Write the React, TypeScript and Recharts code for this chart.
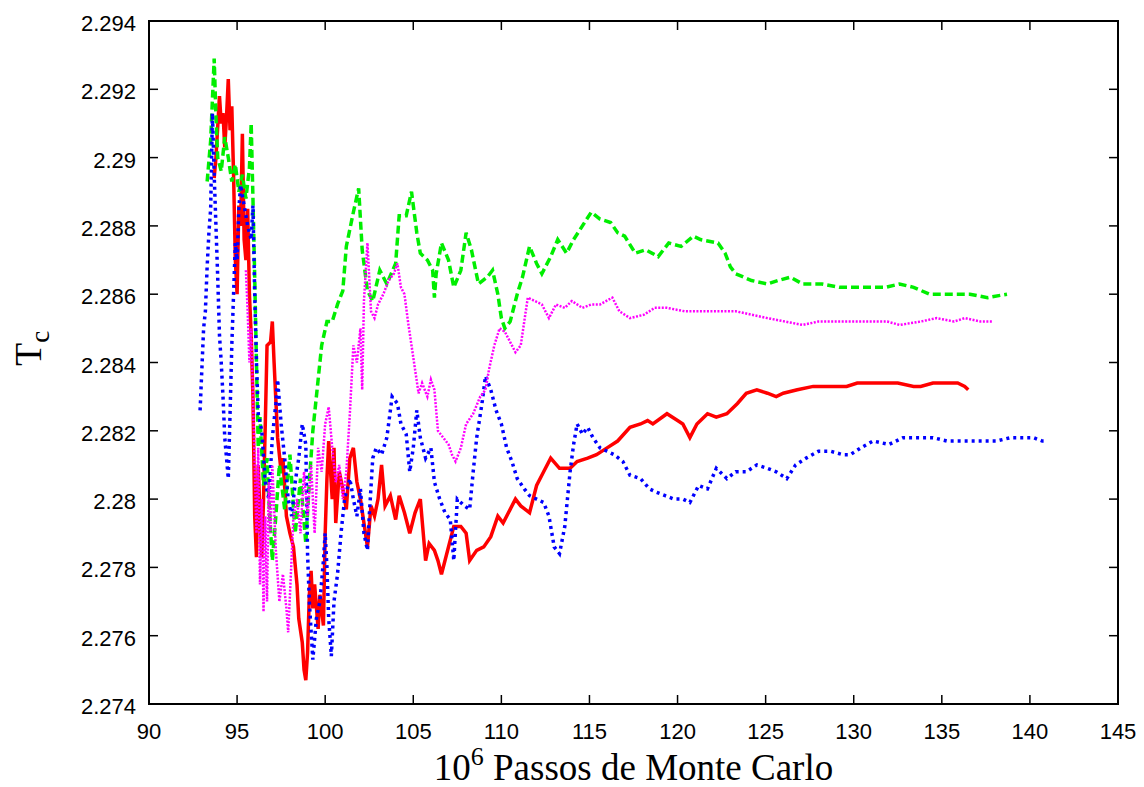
import { LineChart, Line, XAxis, YAxis, ReferenceArea } from 'recharts';

// plot box (px) - used only for ticks/labels drawn in custom renderers
const LEFT = 149;
const RIGHT = 1118;
const TOP = 21;
const BOTTOM = 704;

const xTicks = [90, 95, 100, 105, 110, 115, 120, 125, 130, 135, 140, 145];
const yTicks = [2.274, 2.276, 2.278, 2.28, 2.282, 2.284, 2.286, 2.288, 2.29, 2.292, 2.294];

// [10^6 MC steps, Tc]
const redSeries: [number, number][] = [
    [93.7, 2.2894], [93.8, 2.29], [94.0, 2.2918], [94.1, 2.291], [94.2, 2.2913], [94.3, 2.2903], [94.4, 2.2912],
    [94.5, 2.2923], [94.6, 2.2908], [94.7, 2.2915], [94.8, 2.2895], [94.9, 2.287], [95.0, 2.286], [95.1, 2.2886],
    [95.2, 2.288], [95.3, 2.2907], [95.4, 2.2876], [95.5, 2.287], [95.6, 2.2885], [95.7, 2.286], [95.8, 2.2848],
    [95.9, 2.283], [96.0, 2.2795], [96.1, 2.2783], [96.2, 2.281], [96.3, 2.2795], [96.4, 2.2783], [96.5, 2.28],
    [96.6, 2.2822], [96.7, 2.2845], [96.9, 2.2846], [97.0, 2.2852], [97.1, 2.284], [97.3, 2.2818], [97.5, 2.2808],
    [97.6, 2.2812], [97.8, 2.2795], [98.0, 2.279], [98.2, 2.2786], [98.4, 2.2775], [98.5, 2.2765], [98.7, 2.2758],
    [98.8, 2.275], [98.9, 2.2747], [99.0, 2.2755], [99.1, 2.2772], [99.2, 2.2779], [99.3, 2.2768], [99.4, 2.2775],
    [99.6, 2.2762], [99.7, 2.2772], [99.9, 2.2763], [100.0, 2.279], [100.1, 2.2806], [100.2, 2.2817], [100.4, 2.28],
    [100.5, 2.2815], [100.6, 2.2793], [100.8, 2.2808], [101.0, 2.2803], [101.2, 2.2797], [101.4, 2.2812],
    [101.6, 2.2815], [101.8, 2.2805], [102.0, 2.28], [102.2, 2.2793], [102.4, 2.2786], [102.6, 2.2798],
    [102.8, 2.2795], [103.0, 2.28], [103.2, 2.281], [103.4, 2.2798], [103.7, 2.2801], [104.0, 2.2794],
    [104.2, 2.2801], [104.5, 2.2796], [104.8, 2.279], [105.1, 2.2796], [105.4, 2.28], [105.7, 2.2782],
    [105.9, 2.2787], [106.2, 2.2785], [106.4, 2.2782], [106.6, 2.2778], [106.9, 2.2784], [107.3, 2.2792],
    [107.7, 2.2792], [108.0, 2.279], [108.2, 2.2782], [108.6, 2.2785], [109.0, 2.2786], [109.4, 2.2789],
    [109.8, 2.2795], [110.1, 2.2793], [110.5, 2.2797], [110.8, 2.28], [111.1, 2.2798], [111.6, 2.2796],
    [112.0, 2.2804], [112.4, 2.2808], [112.8, 2.2812], [113.3, 2.2809], [113.9, 2.2809], [114.3, 2.2811],
    [114.9, 2.2812], [115.4, 2.2813], [116.0, 2.2815], [116.6, 2.2817], [117.3, 2.2821], [117.9, 2.2822],
    [118.3, 2.2823], [118.6, 2.2822], [119.4, 2.2825], [120.0, 2.2823], [120.3, 2.2822], [120.7, 2.2818],
    [121.1, 2.2822], [121.7, 2.2825], [122.2, 2.2824], [122.8, 2.2825], [123.4, 2.2828], [123.9, 2.2831],
    [124.5, 2.2832], [125.1, 2.2831], [125.6, 2.283], [126.0, 2.2831], [126.8, 2.2832], [127.7, 2.2833],
    [128.6, 2.2833], [129.6, 2.2833], [130.2, 2.2834], [131.1, 2.2834], [132.5, 2.2834], [133.4, 2.2833],
    [133.8, 2.2833], [134.5, 2.2834], [135.3, 2.2834], [135.9, 2.2834], [136.3, 2.2833], [136.5, 2.2832],
];

const greenSeries: [number, number][] = [
    [93.3, 2.2893], [93.5, 2.2905], [93.7, 2.2929], [93.8, 2.2912], [93.9, 2.29], [94.1, 2.2896], [94.3, 2.2906],
    [94.5, 2.29], [94.7, 2.2893], [94.9, 2.2898], [95.1, 2.289], [95.3, 2.2895], [95.5, 2.2888], [95.7, 2.2897],
    [95.8, 2.291], [95.9, 2.2888], [96.0, 2.2865], [96.1, 2.284], [96.2, 2.2815], [96.3, 2.2824], [96.5, 2.2804],
    [96.7, 2.2812], [96.8, 2.28], [97.0, 2.2782], [97.2, 2.2795], [97.4, 2.281], [97.7, 2.2797], [98.0, 2.2813],
    [98.3, 2.279], [98.6, 2.2806], [98.9, 2.2787], [99.1, 2.2805], [99.3, 2.282], [99.6, 2.2835], [99.8, 2.2845],
    [100.1, 2.2852], [100.4, 2.2852], [100.7, 2.2857], [101.0, 2.2861], [101.2, 2.2874], [101.6, 2.2884],
    [101.9, 2.2891], [102.1, 2.2873], [102.4, 2.2861], [102.7, 2.2858], [103.1, 2.2867], [103.5, 2.2863],
    [104.0, 2.2869], [104.2, 2.2883], [104.6, 2.2883], [104.9, 2.289], [105.2, 2.2878], [105.4, 2.2872],
    [105.8, 2.287], [106.1, 2.2867], [106.2, 2.2859], [106.3, 2.2866], [106.6, 2.2875], [107.0, 2.287],
    [107.3, 2.2862], [107.7, 2.2867], [108.0, 2.2878], [108.3, 2.2873], [108.7, 2.2863], [109.2, 2.2865],
    [109.5, 2.2867], [109.8, 2.286], [110.0, 2.2853], [110.2, 2.285], [110.5, 2.2852], [110.9, 2.286],
    [111.2, 2.2865], [111.6, 2.2874], [112.0, 2.2869], [112.3, 2.2866], [112.8, 2.2871], [113.2, 2.2876],
    [113.7, 2.2872], [114.1, 2.2876], [114.6, 2.288], [115.1, 2.2884], [115.6, 2.2882], [116.2, 2.2881],
    [116.6, 2.2878], [117.0, 2.2877], [117.6, 2.2872], [118.2, 2.2873], [118.9, 2.2871], [119.5, 2.2875],
    [120.2, 2.2874], [120.9, 2.2877], [121.3, 2.2876], [122.3, 2.2875], [122.7, 2.2872], [123.0, 2.2868],
    [123.3, 2.2866], [124.2, 2.2864], [125.1, 2.2863], [125.7, 2.2864], [126.4, 2.2865], [127.1, 2.2863],
    [128.2, 2.2863], [129.2, 2.2862], [130.0, 2.2862], [130.9, 2.2862], [131.8, 2.2862], [132.6, 2.2863],
    [133.4, 2.2862], [134.3, 2.286], [135.6, 2.286], [136.6, 2.286], [137.6, 2.2859], [138.7, 2.286],
];

const blueSeries: [number, number][] = [
    [92.9, 2.2826], [93.0, 2.2838], [93.1, 2.285], [93.2, 2.2855], [93.3, 2.2868], [93.4, 2.2878], [93.5, 2.2885],
    [93.6, 2.2913], [93.7, 2.2895], [93.8, 2.288], [93.9, 2.2865], [94.0, 2.2848], [94.1, 2.284], [94.2, 2.283],
    [94.3, 2.2818], [94.4, 2.2812], [94.5, 2.2806], [94.6, 2.2825], [94.7, 2.2845], [94.8, 2.286], [94.9, 2.2875],
    [95.0, 2.287], [95.1, 2.2885], [95.2, 2.2892], [95.4, 2.2886], [95.6, 2.288], [95.8, 2.2876], [95.9, 2.2886],
    [96.0, 2.286], [96.1, 2.284], [96.2, 2.2825], [96.4, 2.282], [96.6, 2.2805], [96.8, 2.28], [97.0, 2.2818],
    [97.2, 2.2828], [97.3, 2.2835], [97.5, 2.2822], [97.7, 2.2812], [97.9, 2.28], [98.1, 2.2795], [98.3, 2.2805],
    [98.5, 2.2812], [98.7, 2.2822], [98.9, 2.2816], [99.0, 2.2784], [99.1, 2.277], [99.3, 2.2753], [99.5, 2.2765],
    [99.7, 2.277], [99.9, 2.2782], [100.0, 2.279], [100.1, 2.278], [100.2, 2.2765], [100.35, 2.2754],
    [100.5, 2.277], [100.7, 2.2778], [100.9, 2.279], [101.1, 2.28], [101.4, 2.2806], [101.6, 2.28],
    [101.8, 2.2795], [102.0, 2.2803], [102.2, 2.279], [102.4, 2.2785], [102.5, 2.2795], [102.7, 2.2812],
    [102.9, 2.2815], [103.2, 2.2813], [103.5, 2.2818], [103.8, 2.283], [104.1, 2.2828], [104.3, 2.2822],
    [104.6, 2.2819], [104.8, 2.2808], [105.0, 2.2815], [105.2, 2.2826], [105.4, 2.2818], [105.7, 2.2812],
    [106.0, 2.2815], [106.2, 2.2805], [106.5, 2.28], [106.8, 2.2796], [107.1, 2.2794], [107.3, 2.2782],
    [107.5, 2.28], [107.9, 2.2798], [108.2, 2.2797], [108.4, 2.2808], [108.6, 2.2818], [108.9, 2.2828],
    [109.1, 2.2836], [109.4, 2.2832], [109.7, 2.2826], [110.0, 2.2822], [110.3, 2.2815], [110.6, 2.2811],
    [110.9, 2.2806], [111.3, 2.2803], [111.6, 2.2801], [112.0, 2.28], [112.4, 2.2799], [112.7, 2.2795],
    [113.0, 2.2786], [113.3, 2.2784], [113.6, 2.2792], [113.9, 2.2808], [114.1, 2.2816], [114.3, 2.2822],
    [114.6, 2.2819], [114.9, 2.2821], [115.2, 2.2818], [115.6, 2.2815], [116.0, 2.2814], [116.4, 2.2813],
    [116.9, 2.2811], [117.3, 2.2807], [117.9, 2.2806], [118.4, 2.2803], [118.8, 2.2802], [119.3, 2.2801],
    [119.8, 2.28], [120.3, 2.28], [120.7, 2.2799], [121.2, 2.2804], [121.7, 2.2803], [122.2, 2.2809],
    [122.8, 2.2806], [123.3, 2.2808], [123.9, 2.2808], [124.5, 2.281], [125.1, 2.2809], [125.6, 2.2808],
    [126.2, 2.2806], [126.7, 2.281], [127.3, 2.2812], [128.0, 2.2814], [128.7, 2.2814], [129.4, 2.2813],
    [129.8, 2.2813], [130.4, 2.2815], [131.1, 2.2817], [132.0, 2.2816], [132.8, 2.2818], [133.6, 2.2818],
    [134.5, 2.2818], [135.3, 2.2817], [136.2, 2.2817], [137.2, 2.2817], [138.1, 2.2817], [138.9, 2.2818],
    [139.6, 2.2818], [140.2, 2.2818], [140.7, 2.2817], [141.0, 2.2817],
];

const magentaSeries: [number, number][] = [
    [95.5, 2.2867], [95.6, 2.2855], [95.7, 2.284], [95.8, 2.285], [95.9, 2.283], [96.0, 2.281], [96.1, 2.279],
    [96.2, 2.2815], [96.3, 2.2775], [96.4, 2.28], [96.5, 2.2767], [96.6, 2.2795], [96.7, 2.277], [96.8, 2.2805],
    [96.9, 2.279], [97.0, 2.281], [97.2, 2.2785], [97.4, 2.277], [97.6, 2.2778], [97.8, 2.2768], [97.9, 2.2761],
    [98.0, 2.2772], [98.2, 2.2795], [98.4, 2.28], [98.6, 2.279], [98.8, 2.2808], [99.0, 2.2795], [99.2, 2.281],
    [99.4, 2.279], [99.6, 2.2815], [99.8, 2.2808], [100.0, 2.2822], [100.2, 2.2827], [100.4, 2.2815],
    [100.6, 2.2805], [100.8, 2.281], [101.0, 2.28], [101.2, 2.2808], [101.4, 2.2825], [101.6, 2.2845],
    [101.8, 2.284], [102.0, 2.285], [102.1, 2.2832], [102.2, 2.2858], [102.4, 2.2875], [102.5, 2.2865],
    [102.6, 2.2855], [102.8, 2.2853], [103.0, 2.2857], [103.3, 2.286], [103.6, 2.2864], [103.9, 2.2866],
    [104.1, 2.2869], [104.3, 2.2862], [104.5, 2.286], [104.7, 2.2852], [104.9, 2.2845], [105.1, 2.2838],
    [105.3, 2.2831], [105.5, 2.2834], [105.8, 2.283], [106.0, 2.2835], [106.2, 2.2832], [106.4, 2.282],
    [106.7, 2.2818], [107.0, 2.2816], [107.2, 2.2813], [107.4, 2.2811], [107.7, 2.2815], [108.0, 2.2822],
    [108.4, 2.2825], [108.8, 2.283], [109.1, 2.2832], [109.3, 2.2838], [109.6, 2.2845], [109.9, 2.285],
    [110.2, 2.2849], [110.5, 2.2846], [110.8, 2.2843], [111.1, 2.2845], [111.3, 2.2852], [111.5, 2.2859],
    [111.9, 2.2858], [112.3, 2.2857], [112.7, 2.2853], [113.1, 2.2857], [113.6, 2.2856], [114.0, 2.2858],
    [114.6, 2.2856], [115.1, 2.2857], [115.6, 2.2857], [116.3, 2.2859], [116.7, 2.2855], [117.3, 2.2853],
    [118.1, 2.2854], [118.7, 2.2856], [119.4, 2.2856], [120.4, 2.2855], [121.3, 2.2855], [122.3, 2.2855],
    [123.3, 2.2855], [124.2, 2.2854], [125.1, 2.2853], [126.1, 2.2852], [127.1, 2.2851], [128.0, 2.2852],
    [129.0, 2.2852], [129.9, 2.2852], [130.9, 2.2852], [131.9, 2.2852], [132.6, 2.2851], [133.8, 2.2852],
    [134.7, 2.2853], [135.7, 2.2852], [136.3, 2.2853], [137.2, 2.2852], [137.9, 2.2852],
];

const toRows = (pts: [number, number][]) => pts.map(([x, y]) => ({ x, y }));

const sansFont = '"Liberation Sans", Arial, Helvetica, sans-serif';
const serifFont = '"Liberation Serif", "Times New Roman", serif';

// gnuplot-style ticks: inward, mirrored on the opposite side
const XTick = ({ x, payload }: any) => (
    <g>
        <line x1={x} x2={x} y1={BOTTOM} y2={BOTTOM - 9} stroke="#000" strokeWidth={1.5} />
        <line x1={x} x2={x} y1={TOP} y2={TOP + 9} stroke="#000" strokeWidth={1.5} />
        <text x={x} y={BOTTOM + 35} textAnchor="middle" fontFamily={sansFont} fontSize={22} fill="#000">
            {payload.value}
        </text>
    </g>
);

const YTick = ({ y, payload }: any) => (
    <g>
        <line x1={LEFT} x2={LEFT + 9} y1={y} y2={y} stroke="#000" strokeWidth={1.5} />
        <line x1={RIGHT} x2={RIGHT - 9} y1={y} y2={y} stroke="#000" strokeWidth={1.5} />
        <text x={LEFT - 13} y={y + 10} textAnchor="end" fontFamily={sansFont} fontSize={22} fill="#000">
            {payload.value}
        </text>
    </g>
);

export default function App() {
    return (
        <div style={{ position: 'absolute', left: 0, top: 0, width: 1144, height: 787, background: '#fff' }}>
            <LineChart
                width={1144}
                height={787}
                margin={{ top: TOP, right: 1144 - RIGHT, bottom: 0, left: 0 }}
            >
                <XAxis
                    type="number"
                    dataKey="x"
                    domain={[90, 145]}
                    ticks={xTicks}
                    interval={0}
                    height={787 - BOTTOM}
                    tickLine={false}
                    axisLine={false}
                    tick={<XTick />}
                    allowDataOverflow
                />
                <YAxis
                    type="number"
                    dataKey="y"
                    domain={[2.274, 2.294]}
                    ticks={yTicks}
                    interval={0}
                    width={LEFT}
                    tickLine={false}
                    axisLine={false}
                    tick={<YTick />}
                    allowDataOverflow
                />
                <ReferenceArea
                    x1={90}
                    x2={145}
                    y1={2.274}
                    y2={2.294}
                    fill="none"
                    fillOpacity={0}
                    stroke="#000"
                    strokeWidth={2}
                />
                <Line data={toRows(redSeries)} dataKey="y" type="linear" stroke="#ff0000" strokeWidth={3.5}
                    dot={false} activeDot={false} isAnimationActive={false} />
                <Line data={toRows(greenSeries)} dataKey="y" type="linear" stroke="#00ee00" strokeWidth={3.5}
                    strokeDasharray="8 4" dot={false} activeDot={false} isAnimationActive={false} />
                <Line data={toRows(blueSeries)} dataKey="y" type="linear" stroke="#0000ff" strokeWidth={3.5}
                    strokeDasharray="3 4" dot={false} activeDot={false} isAnimationActive={false} />
                <Line data={toRows(magentaSeries)} dataKey="y" type="linear" stroke="#ff00ff" strokeWidth={2.5}
                    strokeDasharray="2 1.5" dot={false} activeDot={false} isAnimationActive={false} />
            </LineChart>
            <svg
                width={1144}
                height={787}
                style={{ position: 'absolute', left: 0, top: 0, pointerEvents: 'none' }}
            >
                <text transform="translate(41, 366) rotate(-90)" fontFamily={serifFont} fontSize={38} fill="#000">
                    T<tspan dy={8} fontSize={27}>c</tspan>
                </text>
                <text x={(LEFT + RIGHT) / 2} y={780} textAnchor="middle" fontFamily={serifFont} fontSize={37} fill="#000">
                    10<tspan dy={-15} fontSize={26}>6</tspan>
                    <tspan dy={15}> Passos de Monte Carlo</tspan>
                </text>
            </svg>
        </div>
    );
}
